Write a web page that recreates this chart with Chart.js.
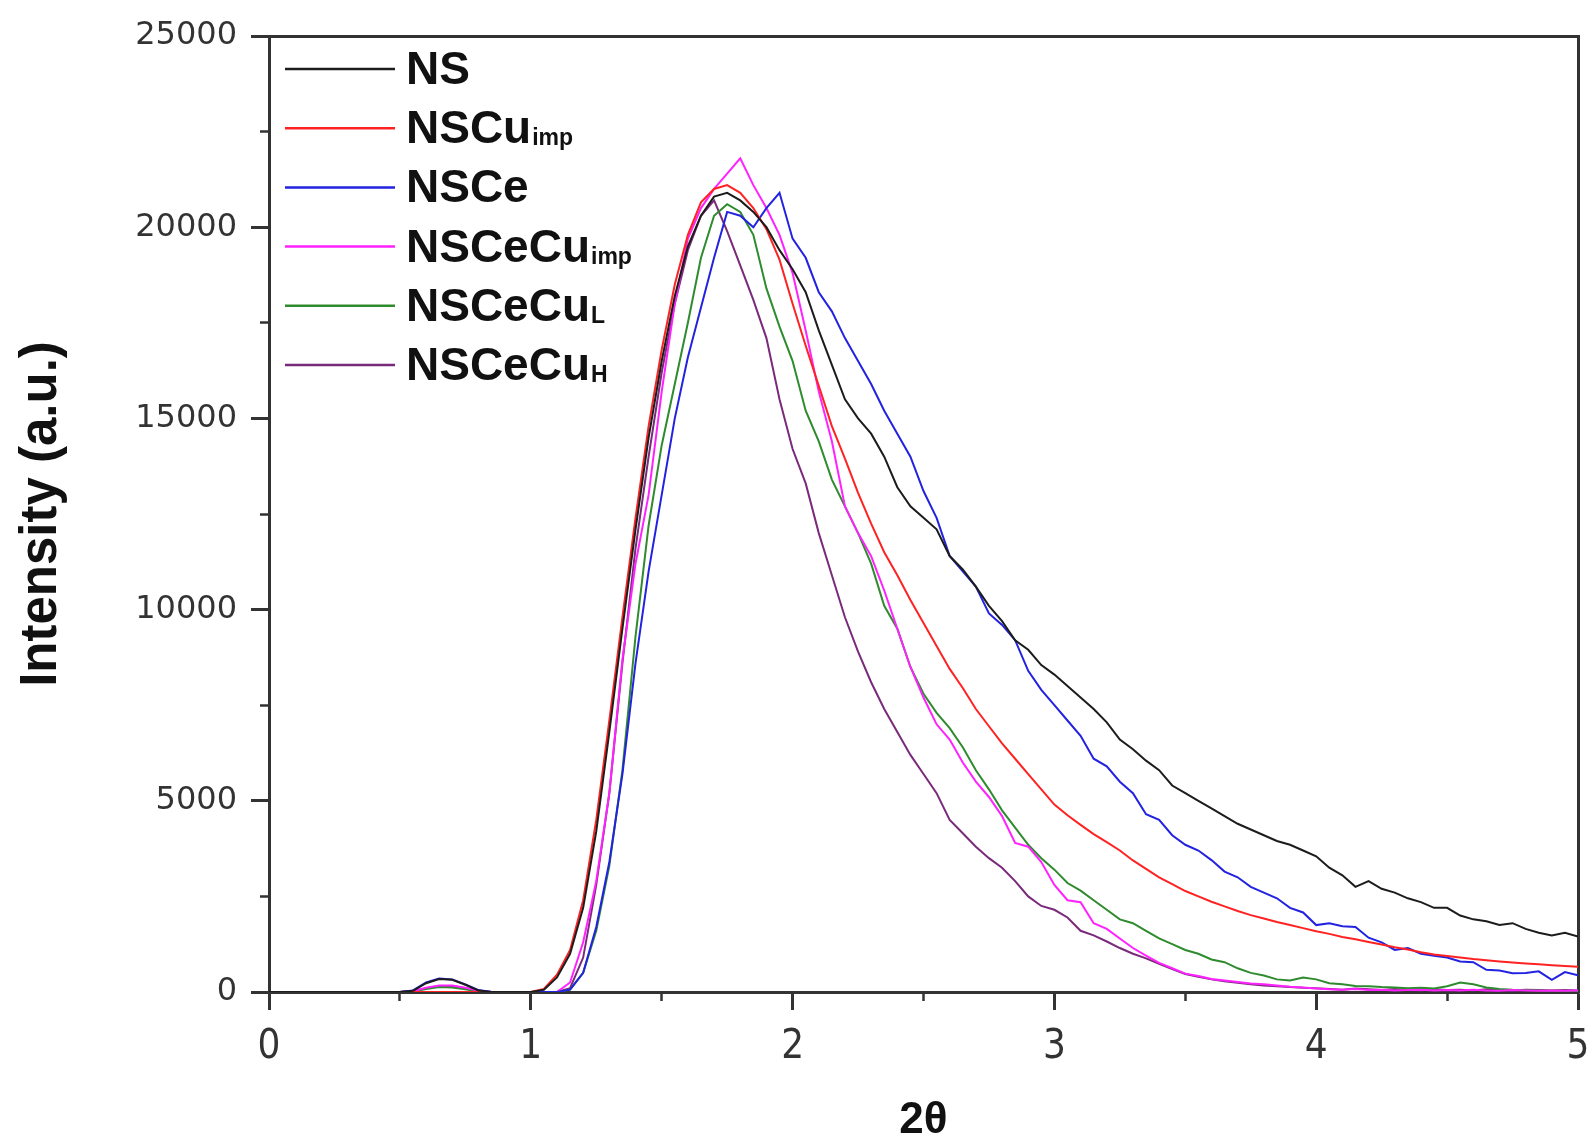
<!DOCTYPE html>
<html lang="en">
<head>
    <meta charset="UTF-8">
    <title>Intensity vs 2θ</title>
    <script src="https://cdn.jsdelivr.net/npm/chart.js"></script>
    <style>
        html, body { margin: 0; padding: 0; background: #fff; }
        #wrap { width: 1594px; height: 1147px; }
    </style>
</head>
<body>
<div id="wrap"><canvas id="xrdChart" width="1594" height="1147"></canvas></div>

<script>
    // 2θ positions (shared by all series)
    const theta = [
        0.00, 0.05, 0.10, 0.15, 0.20, 0.25, 0.30, 0.35, 0.40, 0.45,
        0.50, 0.55, 0.60, 0.65, 0.70, 0.75, 0.80, 0.85, 0.90, 0.95,
        1.00, 1.05, 1.10, 1.15, 1.20, 1.25, 1.30, 1.35, 1.40, 1.45,
        1.50, 1.55, 1.60, 1.65, 1.70, 1.75, 1.80, 1.85, 1.90, 1.95,
        2.00, 2.05, 2.10, 2.15, 2.20, 2.25, 2.30, 2.35, 2.40, 2.45,
        2.50, 2.55, 2.60, 2.65, 2.70, 2.75, 2.80, 2.85, 2.90, 2.95,
        3.00, 3.05, 3.10, 3.15, 3.20, 3.25, 3.30, 3.35, 3.40, 3.45,
        3.50, 3.55, 3.60, 3.65, 3.70, 3.75, 3.80, 3.85, 3.90, 3.95,
        4.00, 4.05, 4.10, 4.15, 4.20, 4.25, 4.30, 4.35, 4.40, 4.45,
        4.50, 4.55, 4.60, 4.65, 4.70, 4.75, 4.80, 4.85, 4.90, 4.95, 5.00
    ];

    const ns = [
        0, 0, 0, 0, 0, 0, 0, 0, 0, 0,
        0, 30, 230, 340, 320, 190, 40, 0, 0, 0,
        0, 60, 380, 1000, 2200, 4200, 6800, 9500, 12100, 14500,
        16500, 18200, 19500, 20300, 20800, 20900, 20700, 20400, 20000, 19400,
        18900, 18300, 17300, 16400, 15500, 15000, 14600, 14000, 13200, 12700,
        12400, 12100, 11400, 11050, 10600, 10100, 9700, 9200, 8950, 8550,
        8300, 8000, 7700, 7400, 7050, 6600, 6350, 6050, 5800, 5400,
        5200, 5000, 4800, 4600, 4400, 4250, 4100, 3950, 3850, 3700,
        3550, 3250, 3050, 2750, 2900, 2700, 2600, 2450, 2350, 2200,
        2200, 2000, 1900, 1850, 1750, 1800, 1650, 1550, 1480, 1550, 1450
    ];

    const nsCuImp = [
        0, 0, 0, 0, 0, 0, 0, 0, 0, 0,
        0, 0, 0, 0, 0, 0, 0, 0, 0, 0,
        0, 80, 450, 1100, 2400, 4500, 7100, 9800, 12400, 14800,
        16800, 18500, 19800, 20650, 21000, 21100, 20900, 20500, 19950, 19150,
        18000, 16900, 15850, 14800, 13950, 13050, 12250, 11500, 10900, 10250,
        9650, 9050, 8450, 7950, 7400, 6950, 6500, 6100, 5700, 5300,
        4900, 4620, 4370, 4130, 3920, 3700, 3440, 3220, 3000, 2820,
        2640, 2500, 2360, 2240, 2120, 2010, 1920, 1830, 1750, 1670,
        1590, 1520, 1440, 1380, 1310, 1240, 1170, 1110, 1040, 980,
        940, 900, 860, 830, 800, 770, 745, 725, 700, 680, 660
    ];

    const nsCe = [
        0, 0, 0, 0, 0, 0, 0, 0, 0, 0,
        0, 40, 250, 350, 330, 200, 50, 0, 0, 0,
        0, 0, 0, 60, 500, 1700, 3400, 5700, 8600, 11000,
        13000, 15000, 16600, 17900, 19200, 20400, 20300, 20000, 20500, 20900,
        19700, 19200, 18300, 17800, 17100, 16500, 15900, 15200, 14600, 14000,
        13100, 12400, 11400, 11000, 10600, 9900, 9600, 9200, 8400, 7900,
        7500, 7100, 6700, 6100, 5900, 5500, 5200, 4650, 4500, 4100,
        3850, 3700, 3450, 3150, 3000, 2750, 2600, 2450, 2200, 2080,
        1750, 1800, 1720, 1700, 1420, 1300, 1100, 1150, 1000, 950,
        900, 800, 780, 580, 560, 490, 500, 540, 320, 520, 440
    ];

    const nsCeCuImp = [
        0, 0, 0, 0, 0, 0, 0, 0, 0, 0,
        0, 20, 110, 170, 170, 110, 30, 0, 0, 0,
        0, 0, 0, 250, 1300, 2900, 5200, 8700, 11200, 13000,
        15700, 18000, 19700, 20500, 21000, 21400, 21800, 21100, 20500, 19800,
        18800, 17300, 15700, 14400, 12700, 12000, 11400, 10500, 9500, 8500,
        7700, 7000, 6600, 6000, 5500, 5100, 4600, 3900, 3800, 3400,
        2800, 2400, 2350, 1800, 1650, 1400, 1150, 950, 760, 620,
        480, 420, 340, 300, 260, 220, 200, 170, 140, 120,
        90, 70, 60, 80, 50, 60, 40, 50, 60, 40,
        50, 40, 60, 40, 30, 50, 40, 30, 40, 30, 40
    ];

    const nsCeCuL = [
        0, 0, 0, 0, 0, 0, 0, 0, 0, 0,
        0, 10, 80, 130, 120, 70, 10, 0, 0, 0,
        0, 0, 0, 60, 500, 1600, 3300, 5800, 9300, 12200,
        14300, 15900, 17500, 19200, 20300, 20600, 20400, 19800, 18400, 17400,
        16500, 15200, 14400, 13400, 12700, 12000, 11200, 10100, 9500, 8500,
        7800, 7300, 6900, 6400, 5800, 5300, 4750, 4300, 3850, 3500,
        3200, 2850, 2650, 2400, 2150, 1900, 1800, 1600, 1400, 1250,
        1100, 1000, 850, 780, 620, 500, 430, 330, 300, 380,
        330, 230, 200, 160, 150, 130, 120, 100, 110, 90,
        150, 250, 200, 120, 80, 60, 50, 40, 30, 30, 20
    ];

    const nsCeCuH = [
        0, 0, 0, 0, 0, 0, 0, 0, 0, 0,
        0, 20, 100, 160, 160, 100, 20, 0, 0, 0,
        0, 0, 0, 100, 900, 2800, 5200, 8600, 11600, 14000,
        16200, 18000, 19400, 20300, 20700, 19900, 19000, 18100, 17100, 15500,
        14200, 13300, 12000, 10900, 9800, 8900, 8100, 7400, 6800, 6200,
        5700, 5200, 4500, 4150, 3800, 3500, 3250, 2900, 2500, 2250,
        2150, 1950, 1600, 1480, 1320, 1150, 1000, 880, 740, 600,
        470, 400, 330, 280, 240, 200, 170, 150, 130, 110,
        100, 80, 60, 90, 70, 50, 80, 60, 40, 70,
        50, 60, 40, 70, 50, 40, 60, 50, 40, 50, 40
    ];

    const seriesValues = [ns, nsCuImp, nsCe, nsCeCuImp, nsCeCuL, nsCeCuH];
    const seriesNames = ['NS', 'NSCu', 'NSCe', 'NSCeCu', 'NSCeCu', 'NSCeCu'];
    const seriesSubs = ['', 'imp', '', 'imp', 'L', 'H'];
    const seriesColors = ['#1c1c1c', '#ff2222', '#2222e0', '#ff22ff', '#2e8b2e', '#7a2a7a'];

    const xTicks = [0, 1, 2, 3, 4, 5];
    const yTicks = [0, 5000, 10000, 15000, 20000, 25000];

    const axisColor = '#333';

    // legend drawn by hand so the subscripts come out right
    const keyPlugin = {
        id: 'subscriptKey',
        afterDraw(chart) {
            const c = chart.ctx;
            const area = chart.chartArea;
            c.save();
            chart.data.datasets.forEach((ds, i) => {
                const base = area.top + 48 + i * 59.2;
                c.strokeStyle = ds.borderColor;
                c.lineWidth = 2.5;
                c.beginPath();
                c.moveTo(area.left + 16, base - 15);
                c.lineTo(area.left + 126, base - 15);
                c.stroke();

                c.fillStyle = '#111';
                c.textBaseline = 'alphabetic';
                c.font = 'bold 46px "Liberation Sans", Arial, sans-serif';
                const tx = area.left + 137;
                c.fillText(seriesNames[i], tx, base);
                if (seriesSubs[i]) {
                    const w = c.measureText(seriesNames[i]).width;
                    c.font = 'bold 23px "Liberation Sans", Arial, sans-serif';
                    c.fillText(seriesSubs[i], tx + w + 1, base + 2);
                }
            });
            c.restore();
        }
    };

    const ctx = document.getElementById('xrdChart').getContext('2d');
    new Chart(ctx, {
        type: 'line',
        data: {
            datasets: seriesValues.map((vals, i) => ({
                label: seriesNames[i] + seriesSubs[i],
                data: vals.map((v, k) => ({ x: theta[k], y: v })),
                borderColor: seriesColors[i],
                backgroundColor: seriesColors[i],
                borderWidth: 2,
                pointRadius: 0,
                tension: 0,
                fill: false
            }))
        },
        options: {
            responsive: false,
            animation: false,
            layout: { padding: { top: 36, right: 16, left: 0, bottom: 0 } },
            plugins: {
                legend: { display: false },
                tooltip: { enabled: false }
            },
            scales: {
                x: {
                    type: 'linear', position: 'bottom', min: 0, max: 5, weight: 1,
                    afterBuildTicks: s => { s.ticks = xTicks.map(v => ({ value: v })); },
                    ticks: {
                        color: axisColor, padding: 14,
                        callback: v => String(v),
                        font: { family: '"Liberation Sans Narrow", "DejaVu Sans Condensed", "Liberation Sans", sans-serif', size: 40 }
                    },
                    grid: { drawOnChartArea: false, tickLength: 18, tickWidth: 3, tickColor: axisColor },
                    border: { color: axisColor, width: 3 },
                    title: {
                        display: true, text: '2θ', color: '#111',
                        font: { family: '"Liberation Sans", Arial, sans-serif', size: 44, weight: 'bold' },
                        padding: { top: 0, bottom: 0 }
                    },
                    afterFit: s => { s.height = 155; s.paddingLeft = 0; s.paddingRight = 0; }
                },
                xMinor: {
                    type: 'linear', position: 'bottom', min: 0, max: 5, weight: 0,
                    ticks: { display: false, stepSize: 0.5 },
                    grid: { drawOnChartArea: false, tickLength: 9, tickWidth: 2.5, tickColor: axisColor },
                    border: { display: false },
                    afterFit: s => { s.height = 0; s.paddingLeft = 0; s.paddingRight = 0; }
                },
                xTop: {
                    type: 'linear', position: 'top', min: 0, max: 5,
                    ticks: { display: false },
                    grid: { drawOnChartArea: false, drawTicks: false },
                    border: { color: axisColor, width: 3 },
                    afterFit: s => { s.height = 0; s.paddingLeft = 0; s.paddingRight = 0; }
                },
                y: {
                    type: 'linear', position: 'left', min: 0, max: 25000, weight: 1,
                    afterBuildTicks: s => { s.ticks = yTicks.map(v => ({ value: v })); },
                    ticks: {
                        color: axisColor, padding: 14,
                        callback: v => String(v),
                        font: { family: '"DejaVu Sans", sans-serif', size: 32 }
                    },
                    grid: { drawOnChartArea: false, tickLength: 18, tickWidth: 3, tickColor: axisColor },
                    border: { color: axisColor, width: 3 },
                    title: {
                        display: true, text: 'Intensity (a.u.)', color: '#111',
                        font: { family: '"Liberation Sans", Arial, sans-serif', size: 51, weight: 'bold' },
                        padding: { top: 11, bottom: 0 }
                    },
                    afterFit: s => { s.width = 269; }
                },
                yMinor: {
                    type: 'linear', position: 'left', min: 0, max: 25000, weight: 0,
                    ticks: { display: false, stepSize: 2500 },
                    grid: { drawOnChartArea: false, tickLength: 9, tickWidth: 2.5, tickColor: axisColor },
                    border: { display: false },
                    afterFit: s => { s.width = 0; }
                },
                yRight: {
                    type: 'linear', position: 'right', min: 0, max: 25000,
                    ticks: { display: false },
                    grid: { drawOnChartArea: false, drawTicks: false },
                    border: { color: axisColor, width: 3 },
                    afterFit: s => { s.width = 0; }
                }
            }
        },
        plugins: [keyPlugin]
    });
</script>
</body>
</html>
